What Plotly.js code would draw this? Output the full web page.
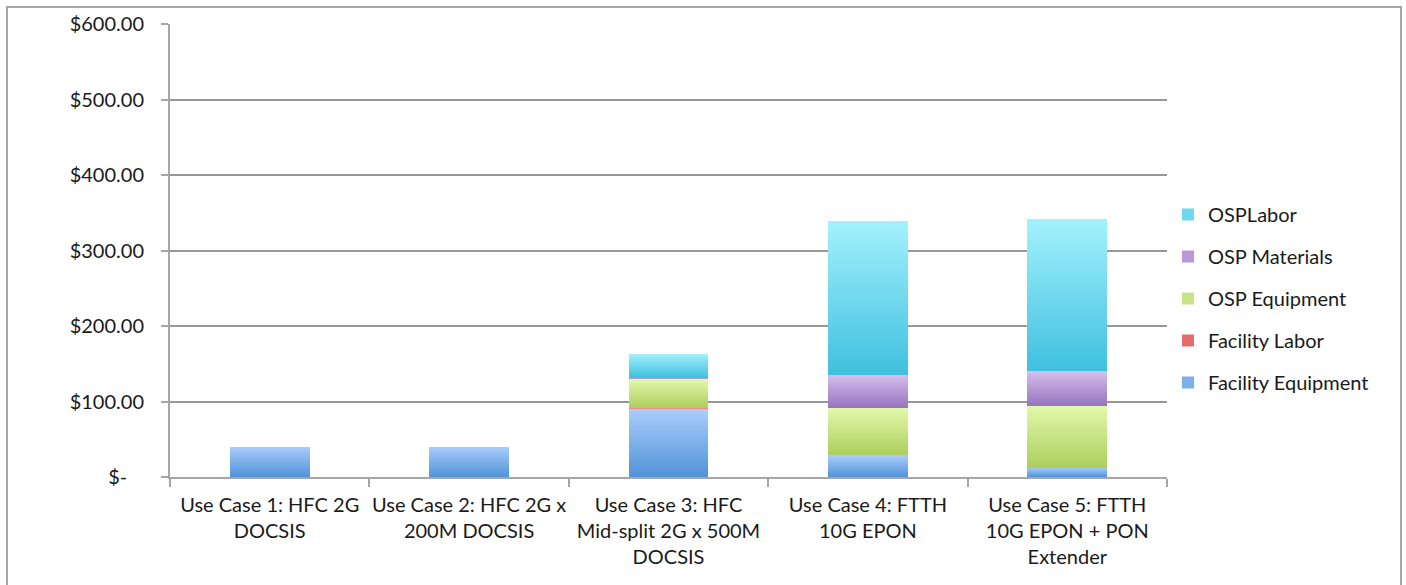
<!DOCTYPE html>
<html>
<head>
<meta charset="utf-8">
<script src="https://cdn.plot.ly/plotly-3.0.1.min.js"></script>
<style>
  html, body { margin: 0; padding: 0; background: #fff; overflow: hidden; }
  #wrap { position: relative; width: 1406px; height: 585px; }
  #chart { position: absolute; left: 0; top: 0; width: 1406px; height: 585px; }
  #frame { position: absolute; left: 6px; top: 6px; width: 1392px; height: 640px;
           border: 2px solid #a6a6a6; pointer-events: none; }
</style>
</head>
<body>
<div id="wrap">
  <div id="chart"></div>
  <div id="frame"></div>
</div>
<script>
// Cost per home passed, by use case and cost component
var categories = [
  'Use Case 1: HFC 2G<br>DOCSIS',
  'Use Case 2: HFC 2G x<br>200M DOCSIS',
  'Use Case 3: HFC<br>Mid-split 2G x 500M<br>DOCSIS',
  'Use Case 4: FTTH<br>10G EPON',
  'Use Case 5: FTTH<br>10G EPON + PON<br>Extender'
];

var facilityEquipment = [40, 40, 89.5, 28.5, 12.5];
var facilityLabor     = [0, 0, 1.5, 0, 0];
var ospEquipment      = [0, 0, 38.5, 63.5, 82];
var ospMaterials      = [0, 0, 2, 43.5, 45.5];
var ospLabor          = [0, 0, 32, 203.5, 201.5];

var seriesNames = ['Facility Equipment', 'Facility Labor', 'OSP Equipment', 'OSP Materials', 'OSPLabor'];
var seriesValues = [facilityEquipment, facilityLabor, ospEquipment, ospMaterials, ospLabor];

var tickValues = [0, 100, 200, 300, 400, 500, 600];
var tickLabels = ['$-\u2007\u00a0', '$100.00', '$200.00', '$300.00', '$400.00', '$500.00', '$600.00'];

// flat colour for each series plus a top/bottom pair for the gradient fill
var shades = [
  { mid: '#7db0ea', top: '#a9cdfb', bottom: '#5193d8' },
  { mid: '#e46c6a', top: '#f39a96', bottom: '#d85450' },
  { mid: '#c8e488', top: '#e2f9ab', bottom: '#acce5c' },
  { mid: '#b79ad7', top: '#d6bfec', bottom: '#9674be' },
  { mid: '#6fd8ef', top: '#a4f1fd', bottom: '#3fc0df' }
];

var traces = seriesNames.map(function (name, i) {
  return {
    type: 'bar',
    name: name,
    x: categories,
    y: seriesValues[i],
    legendgroup: 'g' + i,
    legendrank: 100 * (seriesNames.length - i),
    marker: { color: shades[i].mid, line: { width: 0 } },
    hoverinfo: 'skip'
  };
});

var fontFamily = 'Lato, "Open Sans", sans-serif';

var layout = {
  width: 1406,
  height: 585,
  margin: { l: 170, r: 239, t: 24, b: 108, pad: 0 },
  paper_bgcolor: 'rgba(0,0,0,0)',
  plot_bgcolor: '#ffffff',
  barmode: 'stack',
  bargap: 0.6,
  showlegend: true,
  font: { family: fontFamily, size: 20, color: '#1a1a1a' },
  legend: {
    x: 1.001, xanchor: 'left',
    y: 0.394, yanchor: 'middle',
    traceorder: 'grouped',
    tracegroupgap: 13,
    font: { family: fontFamily, size: 20, color: '#1a1a1a' },
    itemwidth: 30,
    bgcolor: 'rgba(0,0,0,0)'
  },
  xaxis: {
    type: 'category',
    showline: true, linecolor: '#a6a6a6', linewidth: 2,
    ticks: 'outside', tickson: 'boundaries', ticklen: 8, tickwidth: 2, tickcolor: '#a6a6a6',
    showgrid: false, zeroline: false,
    tickangle: 0,
    tickfont: { family: fontFamily, size: 20, color: '#1a1a1a' },
    ticklabelstandoff: 9,
    fixedrange: true
  },
  yaxis: {
    range: [0, 600],
    tickvals: tickValues,
    ticktext: tickLabels,
    showline: true, linecolor: '#a6a6a6', linewidth: 2,
    ticks: 'outside', ticklen: 7, tickwidth: 2, tickcolor: '#a6a6a6',
    showgrid: true, gridcolor: '#979797', gridwidth: 2,
    zeroline: false,
    tickfont: { family: fontFamily, size: 20, color: '#1a1a1a' },
    ticklabelstandoff: 13,
    fixedrange: true
  }
};

Plotly.newPlot('chart', traces, layout, { staticPlot: true, displayModeBar: false }).then(function (gd) {
  // give each series a soft vertical gradient
  var ns = 'http://www.w3.org/2000/svg';
  var svg = gd.querySelector('svg.main-svg');
  var defs = svg.querySelector('defs');
  if (!defs) { defs = document.createElementNS(ns, 'defs'); svg.insertBefore(defs, svg.firstChild); }
  shades.forEach(function (s, i) {
    var grad = document.createElementNS(ns, 'linearGradient');
    grad.setAttribute('id', 'barShade' + i);
    grad.setAttribute('x1', '0'); grad.setAttribute('y1', '0');
    grad.setAttribute('x2', '0'); grad.setAttribute('y2', '1');
    [[0, s.top], [1, s.bottom]].forEach(function (st) {
      var stop = document.createElementNS(ns, 'stop');
      stop.setAttribute('offset', st[0]);
      stop.setAttribute('stop-color', st[1]);
      grad.appendChild(stop);
    });
    defs.appendChild(grad);
  });
  gd.querySelectorAll('.barlayer .trace').forEach(function (g, i) {
    g.querySelectorAll('path').forEach(function (p) {
      p.style.fill = 'url(#barShade' + i + ')';
    });
  });
});
</script>
</body>
</html>
